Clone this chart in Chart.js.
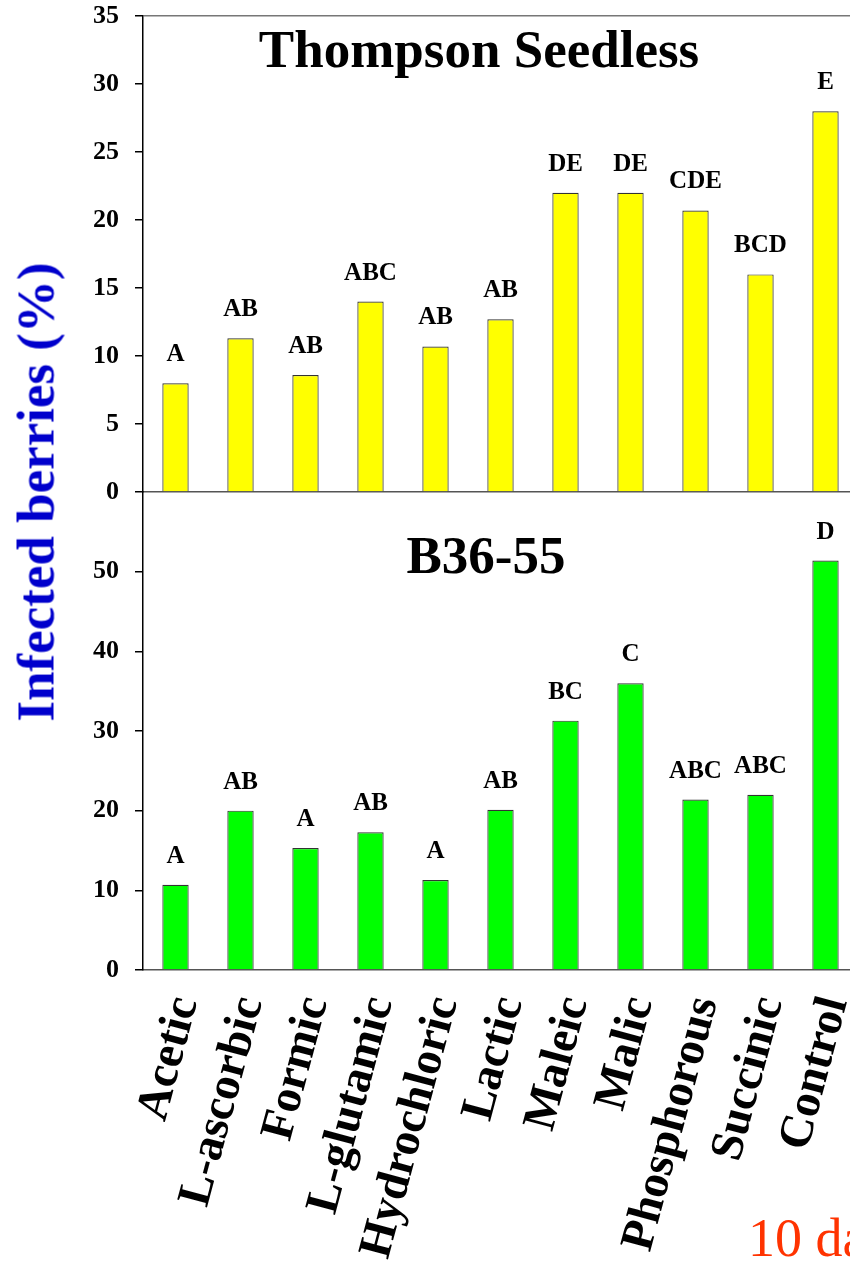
<!DOCTYPE html>
<html>
<head>
<meta charset="utf-8">
<script src="https://cdn.jsdelivr.net/npm/chart.js@4.4.1/dist/chart.umd.min.js"></script>
<style>
  html, body { margin:0; padding:0; background:#fff; }
  body { width:850px; height:1264px; overflow:hidden; position:relative; }
  canvas { position:absolute; left:0; }
  #cA { top:0; }
  #cB { top:480px; }
  #ytitle { position:absolute; left:36px; top:492px; transform:translate(-50%,-50%) rotate(-90deg);
    font: bold 53px "Liberation Serif", "Times New Roman", serif; color:#0000CC; white-space:nowrap; line-height:1; }
  #note { position:absolute; left:748px; top:1211px; font: 54px "Liberation Serif", "Times New Roman", serif;
    color:#FF3300; white-space:nowrap; line-height:1; }
</style>
</head>
<body>
<canvas id="cA" width="870" height="500"></canvas>
<canvas id="cB" width="870" height="784"></canvas>
<div id="ytitle">Infected berries (%)</div>
<div id="note">10 days</div>
<script>
// ---- data ----
const categories = ["Acetic", "L-ascorbic", "Formic", "L-glutamic", "Hydrochloric", "Lactic", "Maleic", "Malic", "Phosphorous", "Succinic", "Control"];
const thompsonValues = [8.0, 11.3, 8.6, 14.0, 10.7, 12.7, 22.0, 22.0, 20.7, 16.0, 28.0];
const thompsonLetters = ["A", "AB", "AB", "ABC", "AB", "AB", "DE", "DE", "CDE", "BCD", "E"];
const b3655Values = [10.7, 20.0, 15.3, 17.3, 11.3, 20.1, 31.3, 36.0, 21.4, 22.0, 51.4];
const b3655Letters = ["A", "AB", "A", "AB", "A", "AB", "BC", "C", "ABC", "ABC", "D"];
const thompsonTicks = [0, 5, 10, 15, 20, 25, 30, 35];
const b3655Ticks = [0, 10, 20, 30, 40, 50];
const panelTitles = ["Thompson Seedless", "B36-55"];

const SERIF = '"Liberation Serif", "Times New Roman", serif';

const letterPlugin = {
  id: 'letterPlugin',
  afterDatasetsDraw(chart, args, opts) {
    const ctx = chart.ctx;
    const meta = chart.getDatasetMeta(0);
    ctx.save();
    ctx.font = 'bold 25px ' + SERIF;
    ctx.fillStyle = '#000';
    ctx.textAlign = 'center';
    ctx.textBaseline = 'alphabetic';
    meta.data.forEach((bar, i) => {
      ctx.fillText(opts.letters[i], bar.x, bar.y - 22);
    });
    ctx.font = 'bold 53px ' + SERIF;
    ctx.fillText(opts.title, opts.titleX, opts.titleY);
    ctx.restore();
  }
};

function yAxis(max, step, ticksList) {
  return {
    type: 'linear', min: 0, max: max,
    afterBuildTicks: s => { s.ticks = ticksList.concat(max > ticksList[ticksList.length-1] ? [max] : []).map(v => ({value: v})); },
    ticks: {
      stepSize: step,
      font: { family: SERIF, weight: 'bold', size: 26 },
      color: '#000', padding: 16,
      callback: v => ticksList.includes(v) ? String(v) : null
    },
    grid: {
      drawOnChartArea: true, drawTicks: true, tickLength: 8, lineWidth: 1.5,
      color: c => (c.tick && c.tick.value === 35) ? '#777' : 'rgba(0,0,0,0)',
      tickColor: '#000'
    },
    border: { display: true, color: '#000', width: 1.5 },
    afterFit: s => { s.width = 143; s.paddingTop = 0; s.paddingBottom = 0; s.paddingLeft = 0; s.paddingRight = 0; }
  };
}

new Chart(document.getElementById('cA'), {
  type: 'bar',
  data: { labels: categories, datasets: [{ data: thompsonValues, backgroundColor: '#FFFF00', borderColor: '#333', borderWidth: 1.2, barPercentage: 0.405, categoryPercentage: 1 }] },
  options: {
    responsive: false, animation: false, devicePixelRatio: 1,
    layout: { padding: { top: 16, left: 0, right: 12, bottom: 0 } },
    plugins: { legend: { display: false }, tooltip: { enabled: false },
      letterPlugin: { letters: thompsonLetters, title: panelTitles[0], titleX: 479, titleY: 67 } },
    scales: {
      x: { grid: { display: false, drawTicks: false }, ticks: { display: false },
           border: { display: true, color: '#555', width: 1.5 },
           afterFit: s => { s.height = 8; s.paddingLeft = 0; s.paddingRight = 0; s.paddingTop = 0; s.paddingBottom = 0; } },
      y: yAxis(35, 5, thompsonTicks)
    }
  },
  plugins: [letterPlugin]
});

new Chart(document.getElementById('cB'), {
  type: 'bar',
  data: { labels: categories, datasets: [{ data: b3655Values, backgroundColor: '#00FF00', borderColor: '#333', borderWidth: 1.2, barPercentage: 0.405, categoryPercentage: 1 }] },
  options: {
    responsive: false, animation: false, devicePixelRatio: 1,
    layout: { padding: { top: 12, left: 0, right: 12, bottom: 0 } },
    plugins: { legend: { display: false }, tooltip: { enabled: false },
      letterPlugin: { letters: b3655Letters, title: panelTitles[1], titleX: 486, titleY: 93 } },
    scales: {
      x: { grid: { display: false, drawTicks: false },
           ticks: { font: { family: SERIF, weight: 'bold', size: 47 }, color: '#000',
                    minRotation: 75, maxRotation: 75, autoSkip: false, padding: 21, labelOffset: 10 },
           border: { display: true, color: '#555', width: 1.5 },
           afterFit: s => { s.height = 294; s.paddingLeft = 0; s.paddingRight = 0; s.paddingTop = 0; s.paddingBottom = 0; } },
      y: yAxis(60, 10, b3655Ticks)
    }
  },
  plugins: [letterPlugin]
});
</script>
</body>
</html>
